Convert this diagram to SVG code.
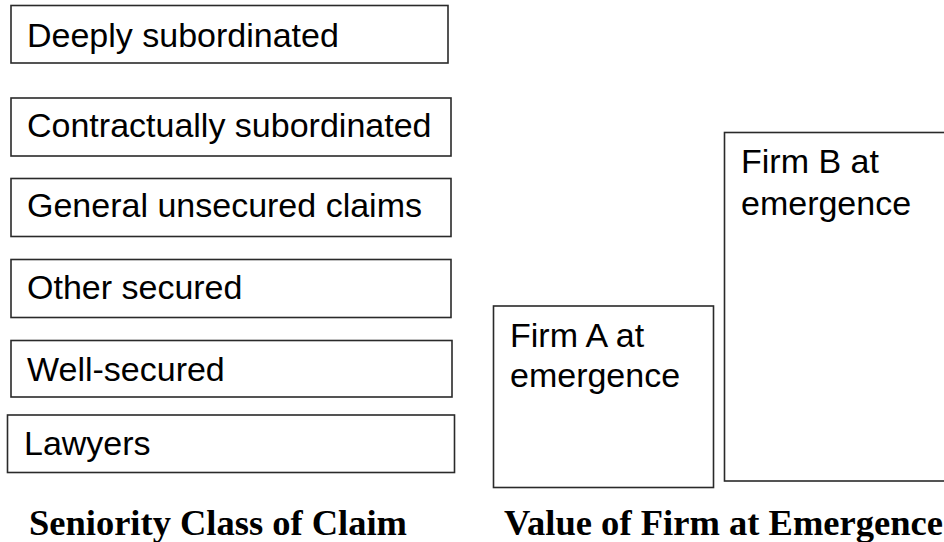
<svg xmlns="http://www.w3.org/2000/svg" width="944" height="542" viewBox="0 0 944 542">
<style>
.box{fill:#fff;stroke:#2a2a2a;stroke-width:1.6}
.lbl{font-family:"Liberation Sans",Arial,sans-serif;font-size:34px;fill:#000}
.cap{font-family:"Liberation Serif","Times New Roman",serif;font-weight:bold;font-size:36px;fill:#000}
</style>
<rect width="944" height="542" fill="#fff"/>
<g id="deeply"><rect class="box" x="11" y="5.5" width="437" height="57.5"/><text class="lbl" x="27" y="47">Deeply subordinated</text></g>
<g id="contractually"><rect class="box" x="11" y="98" width="440" height="58"/><text class="lbl" x="27" y="137">Contractually subordinated</text></g>
<g id="general"><rect class="box" x="11" y="178.5" width="440" height="58"/><text class="lbl" x="27" y="217">General unsecured claims</text></g>
<g id="other"><rect class="box" x="11" y="259.5" width="440" height="58"/><text class="lbl" x="27" y="299">Other secured</text></g>
<g id="well"><rect class="box" x="11" y="340.5" width="441" height="56.5"/><text class="lbl" x="27" y="381">Well-secured</text></g>
<g id="lawyers"><rect class="box" x="7.5" y="415" width="447" height="57.5"/><text class="lbl" x="24" y="455">Lawyers</text></g>
<g id="firmA"><rect class="box" x="493.5" y="306" width="220" height="181.5"/><text class="lbl" x="510" y="347">Firm A at</text><text class="lbl" x="510" y="387">emergence</text></g>
<g id="firmB"><rect class="box" x="724.5" y="132.5" width="230" height="348.5"/><text class="lbl" x="741" y="173">Firm B at</text><text class="lbl" x="741" y="215">emergence</text></g>
<g id="connectors"></g>
<g id="captions">
<text class="cap" x="29" y="535" textLength="378" lengthAdjust="spacingAndGlyphs">Seniority Class of Claim</text>
<text class="cap" x="504" y="535" textLength="439" lengthAdjust="spacingAndGlyphs">Value of Firm at Emergence</text>
</g>
</svg>
